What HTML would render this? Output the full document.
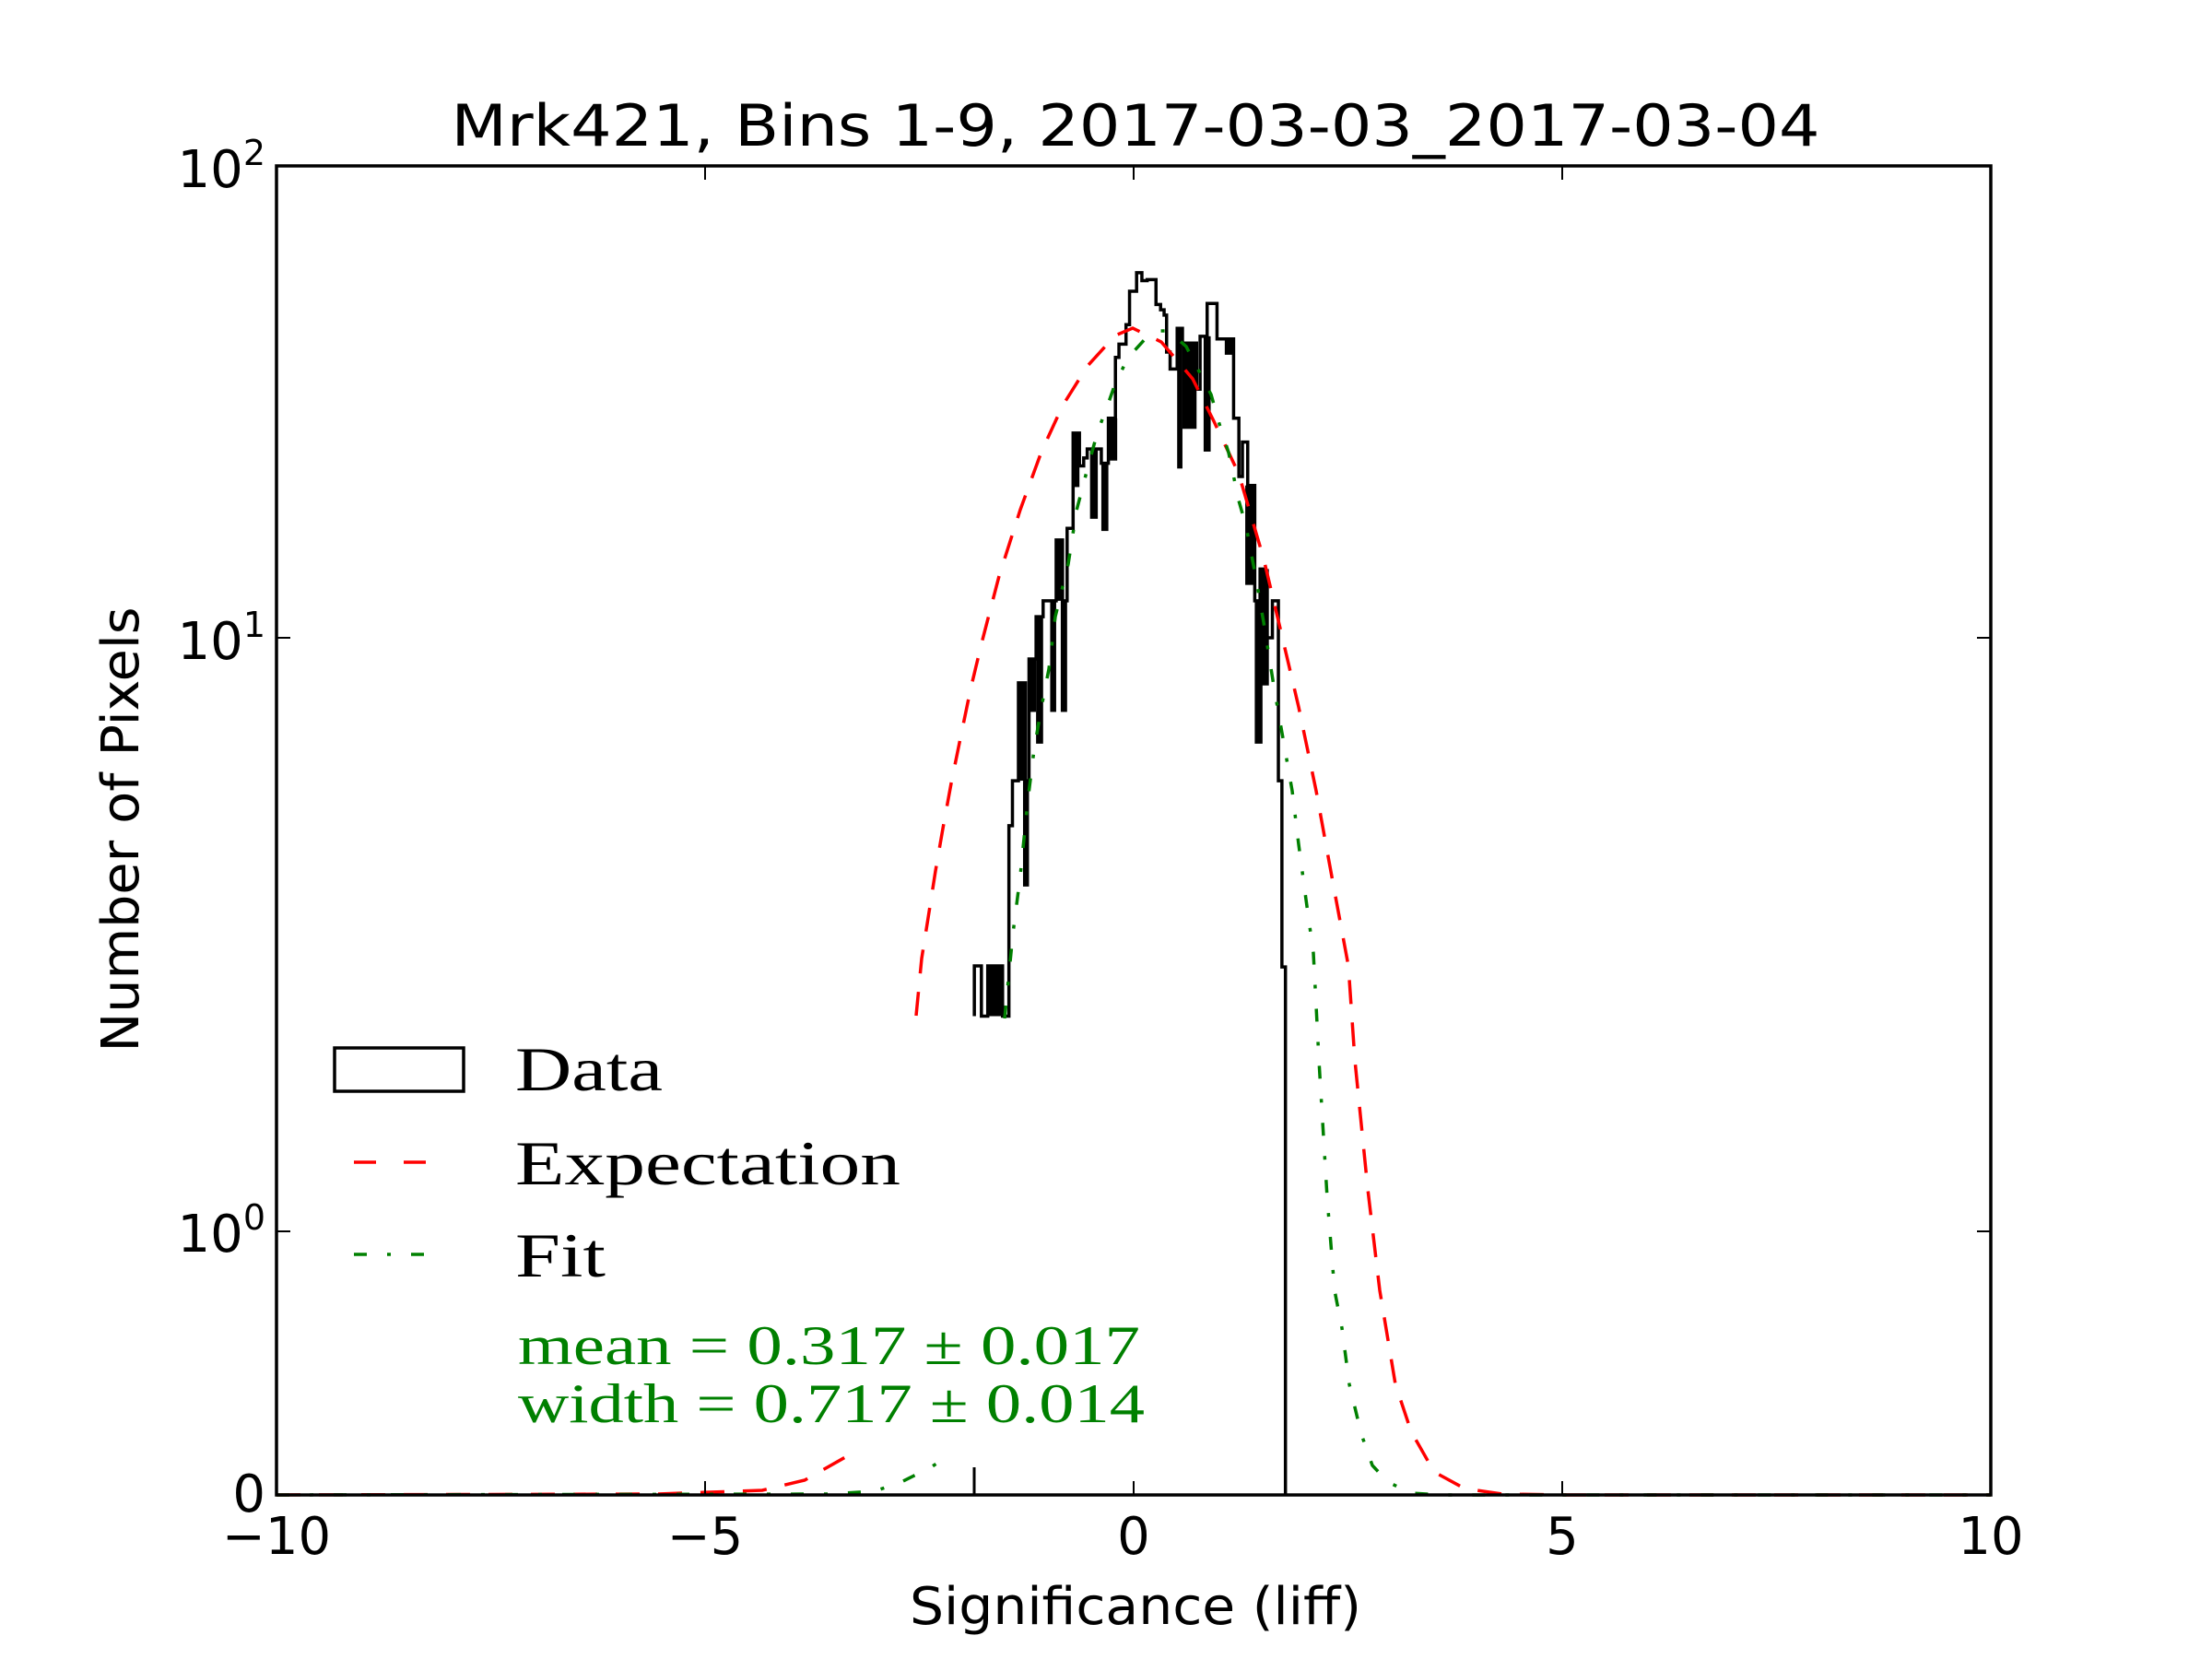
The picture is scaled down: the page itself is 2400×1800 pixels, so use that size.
<!DOCTYPE html>
<html><head><meta charset="utf-8"><style>
html,body{margin:0;padding:0;background:#fff;}
svg{display:block;}
</style></head><body>
<svg width="2400" height="1800" viewBox="0 0 2400 1800" xmlns="http://www.w3.org/2000/svg">
<rect width="2400" height="1800" fill="#fff"/>
<text x="1232" y="158" font-family="DejaVu Sans, Liberation Sans, sans-serif" font-size="62" text-anchor="middle" textLength="1485" lengthAdjust="spacingAndGlyphs">Mrk421, Bins 1-9, 2017-03-03_2017-03-04</text>

<g transform="translate(950,250) scale(0.3827,0.5741)">
<path vector-effect="non-scaling-stroke" fill="none" stroke="#000" stroke-width="3.5" d="M280,1485 V1390 H300 V1485 H318 V1390 H360 V1485 H378 V1125 H388 V1040 H405 V855 H425 V1040 H435 V810 H455 V730 H475 V700 H512 V585 H530 V700 H543 V563 H560 V383 H578 V445 H590 V430 H600 V413 H640 V440 H660 V355 H680 V240 H690 V215 H710 V178 H720 V115 H740 V80 H755 V95 H770 V93 H795 V140 H808 V150 H818 V160 H825 V230 H835 V262 H855 V185 H870 V213 H910 V300 H920 V200 H940 V138 H968 V205 H1015 V355 H1030 V465 H1040 V400 H1055 V482 H1075 V700 H1090 V640 H1105 V770 H1125 V700 H1142 V1040 H1152 V1392 H1162 V2390"/>
<g fill="#000">
<rect x="318" y="1390" width="42" height="95"/>
<rect x="405" y="855" width="20" height="185"/>
<rect x="418" y="1040" width="17" height="200"/>
<rect x="435" y="810" width="20" height="100"/>
<rect x="455" y="730" width="20" height="240"/>
<rect x="495" y="700" width="17" height="210"/>
<rect x="525" y="700" width="18" height="210"/>
<rect x="512" y="585" width="18" height="115"/>
<rect x="560" y="383" width="18" height="102"/>
<rect x="608" y="413" width="22" height="132"/>
<rect x="640" y="440" width="20" height="128"/>
<rect x="660" y="355" width="25" height="80"/>
<rect x="855" y="185" width="15" height="265"/>
<rect x="870" y="213" width="40" height="162"/>
<rect x="930" y="200" width="20" height="218"/>
<rect x="990" y="205" width="25" height="30"/>
<rect x="1048" y="482" width="27" height="188"/>
<rect x="1075" y="700" width="22" height="270"/>
<rect x="1090" y="640" width="25" height="220"/>
</g>
</g>
<line x1="1057" y1="1592" x2="1057" y2="1622" stroke="#000" stroke-width="3"/>

<polyline fill="none" stroke="#f00" stroke-width="3.5" stroke-dasharray="26,20" points="994,1102 1000,1040 1007,996 1015,945 1023,899 1032,850 1042,801 1053,748 1065,698 1084,625 1107,553 1130,490 1153,440 1180,397 1210,364 1229,356 1260,371 1294,411 1317,457 1344,514 1371,606 1390,686 1409,767 1428,858 1447,962 1463,1048 1470,1150 1484,1290 1497,1400 1514,1502 1531,1553 1556,1597 1589,1615 1630,1621 1700,1622 2160,1622"/>
<polyline fill="none" stroke="#f00" stroke-width="3.5" stroke-dasharray="26,20" points="300,1622 713,1621 827,1617 873,1606 919,1580"/>
<polyline fill="none" stroke="#008000" stroke-width="3.5" stroke-dasharray="14,22,4,22" points="1090,1105 1099,1013 1107,950 1115,870 1122,813 1130,767 1138,726 1145,669 1159,612 1168,554 1180,508 1191,468 1201,442 1210,416 1224,388 1245,365 1256,359 1268,359 1287,376 1302,405 1314,428 1323,460 1333,491 1344,543 1352,571 1363,629 1371,675 1382,744 1392,801 1402,858 1409,916 1417,976 1425,1034 1428,1091 1431,1150 1440,1300 1448,1400 1456,1441 1464,1502 1477,1556 1489,1590 1506,1608 1531,1620 1564,1622 2160,1622"/>
<polyline fill="none" stroke="#008000" stroke-width="3.5" stroke-dasharray="14,22,4,22" points="300,1622 900,1621 949,1618 980,1607 1010,1592 1033,1577"/>

<rect x="300" y="180" width="1860" height="1442" fill="none" stroke="#000" stroke-width="3.5"/>
<g stroke="#000" stroke-width="2">
<line x1="300" y1="692" x2="315" y2="692"/><line x1="2160" y1="692" x2="2145" y2="692"/>
<line x1="300" y1="1336" x2="315" y2="1336"/><line x1="2160" y1="1336" x2="2145" y2="1336"/>
<line x1="765" y1="1622" x2="765" y2="1607"/><line x1="765" y1="180" x2="765" y2="195"/>
<line x1="1230" y1="1622" x2="1230" y2="1607"/><line x1="1230" y1="180" x2="1230" y2="195"/>
<line x1="1695" y1="1622" x2="1695" y2="1607"/><line x1="1695" y1="180" x2="1695" y2="195"/>
</g>

<g font-family="DejaVu Sans, Liberation Sans, sans-serif" font-size="56" fill="#000">
<text x="300" y="1686" text-anchor="middle">−10</text>
<text x="765" y="1686" text-anchor="middle">−5</text>
<text x="1230" y="1686" text-anchor="middle">0</text>
<text x="1695" y="1686" text-anchor="middle">5</text>
<text x="2160" y="1686" text-anchor="middle">10</text>
<text x="288" y="203" text-anchor="end">10<tspan font-size="38" dy="-24">2</tspan></text>
<text x="288" y="715" text-anchor="end">10<tspan font-size="38" dy="-24">1</tspan></text>
<text x="288" y="1358" text-anchor="end">10<tspan font-size="38" dy="-24">0</tspan></text>
<text x="288" y="1640" text-anchor="end">0</text>
<text x="1232" y="1762" text-anchor="middle" textLength="490" lengthAdjust="spacingAndGlyphs">Significance (liff)</text>
<text transform="translate(150,900) rotate(-90)" x="0" y="0" text-anchor="middle" textLength="483" lengthAdjust="spacingAndGlyphs">Number of Pixels</text>
</g>

<rect x="363" y="1137" width="140" height="47" fill="none" stroke="#000" stroke-width="3.5"/>
<line x1="384" y1="1261" x2="482" y2="1261" stroke="#f00" stroke-width="3.5" stroke-dasharray="24,30"/>
<line x1="384" y1="1361" x2="482" y2="1361" stroke="#008000" stroke-width="3.5" stroke-dasharray="14,22,4,22"/>
<g font-family="Liberation Serif, DejaVu Serif, serif" font-size="68" fill="#000">
<text x="559" y="1183" textLength="160" lengthAdjust="spacingAndGlyphs">Data</text>
<text x="559" y="1285" textLength="418" lengthAdjust="spacingAndGlyphs">Expectation</text>
<text x="559" y="1385" textLength="98" lengthAdjust="spacingAndGlyphs">Fit</text>
</g>
<g font-family="Liberation Serif, DejaVu Serif, serif" font-size="60" fill="#008000">
<text x="562" y="1480" textLength="675" lengthAdjust="spacingAndGlyphs">mean = 0.317 ± 0.017</text>
<text x="562" y="1543" textLength="680" lengthAdjust="spacingAndGlyphs">width = 0.717 ± 0.014</text>
</g>
</svg>
</body></html>
